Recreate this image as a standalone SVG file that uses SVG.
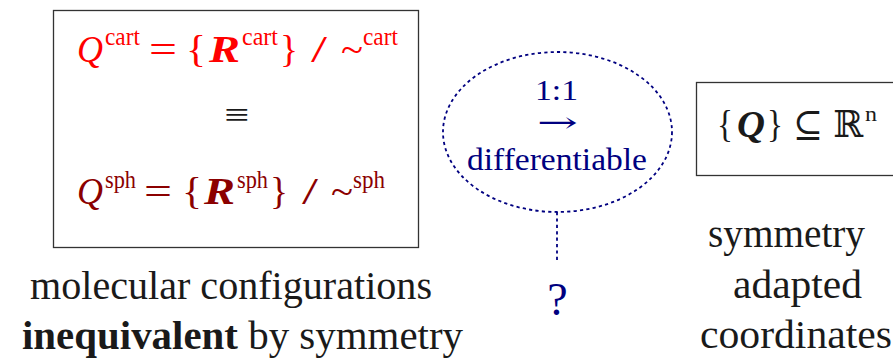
<svg xmlns="http://www.w3.org/2000/svg" width="893" height="358" viewBox="0 0 893 358">
<style>
.r{fill:#ff0000}
.d{fill:#8b0000}
.n{fill:#000080}
.k{fill:#1a1a1a}
.m{font-size:37px}
.s{font-size:25px}
.i{font-style:italic}
.b{font-weight:bold;font-style:italic}
.box{fill:#fff;stroke:#333;stroke-width:1.3}
.dot{fill:none;stroke:#000080;stroke-width:1.8;stroke-dasharray:3.2 3.2}
.lab{font-size:40px;fill:#1a1a1a}
</style>
<rect width="893" height="358" fill="#fff"/>
<g font-family="Liberation Serif">
<g id="config-box">
<rect class="box" x="53.5" y="10.5" width="365" height="237"/>
<g class="r">
<text class="m i" x="77" y="62" textLength="26" lengthAdjust="spacingAndGlyphs">Q</text>
<text class="s" x="105" y="45" textLength="35" lengthAdjust="spacingAndGlyphs">cart</text>
<text class="m" x="149" y="62" textLength="28" lengthAdjust="spacingAndGlyphs">=</text>
<text class="m" x="186" y="62" textLength="20" lengthAdjust="spacingAndGlyphs">{</text>
<text class="m b" x="209" y="62" textLength="31" lengthAdjust="spacingAndGlyphs">R</text>
<text class="s" x="242" y="45" textLength="36" lengthAdjust="spacingAndGlyphs">cart</text>
<text class="m" x="280" y="62" textLength="18" lengthAdjust="spacingAndGlyphs">}</text>
<text class="m" x="311" y="62" textLength="16" lengthAdjust="spacingAndGlyphs">/</text>
<text class="m" x="341" y="62" textLength="22" lengthAdjust="spacingAndGlyphs">~</text>
<text class="s" x="363" y="45" textLength="35" lengthAdjust="spacingAndGlyphs">cart</text>
</g>
<text class="k" x="224" y="126" font-size="34" textLength="25" lengthAdjust="spacingAndGlyphs">≡</text>
<g class="d">
<text class="m i" x="77" y="204" textLength="26" lengthAdjust="spacingAndGlyphs">Q</text>
<text class="s" x="105" y="188" textLength="31" lengthAdjust="spacingAndGlyphs">sph</text>
<text class="m" x="144" y="204" textLength="28" lengthAdjust="spacingAndGlyphs">=</text>
<text class="m" x="182" y="204" textLength="20" lengthAdjust="spacingAndGlyphs">{</text>
<text class="m b" x="204" y="204" textLength="31" lengthAdjust="spacingAndGlyphs">R</text>
<text class="s" x="237" y="188" textLength="31" lengthAdjust="spacingAndGlyphs">sph</text>
<text class="m" x="270" y="204" textLength="18" lengthAdjust="spacingAndGlyphs">}</text>
<text class="m" x="302" y="204" textLength="16" lengthAdjust="spacingAndGlyphs">/</text>
<text class="m" x="331" y="204" textLength="22" lengthAdjust="spacingAndGlyphs">~</text>
<text class="s" x="353" y="188" textLength="32" lengthAdjust="spacingAndGlyphs">sph</text>
</g>
</g>
<g id="config-label">
<text class="lab" x="30" y="299" textLength="402" lengthAdjust="spacingAndGlyphs">molecular configurations</text>
<text class="lab" x="22" y="349" textLength="441" lengthAdjust="spacingAndGlyphs"><tspan font-weight="bold">inequivalent</tspan> by symmetry</text>
</g>
<g id="map-ellipse">
<ellipse class="dot" cx="557.5" cy="132" rx="114.5" ry="80"/>
<text class="n" x="535" y="100" font-size="30" textLength="43" lengthAdjust="spacingAndGlyphs">1:1</text>
<text class="n" x="537" y="132" font-size="28" textLength="41" lengthAdjust="spacingAndGlyphs" font-family="DejaVu Serif">→</text>
<text class="n" x="467" y="170" font-size="32" textLength="180" lengthAdjust="spacingAndGlyphs">differentiable</text>
</g>
<g id="connectors">
<line class="dot" x1="557" y1="212" x2="557" y2="262"/>
</g>
<g id="question">
<text class="n" x="557.5" y="315" font-size="46" text-anchor="middle">?</text>
</g>
<g id="coord-box">
<rect class="box" x="696.5" y="82.5" width="200" height="93"/>
<text class="m k" x="717" y="137" textLength="16" lengthAdjust="spacingAndGlyphs">{</text>
<text class="m k b" x="737" y="137" textLength="28" lengthAdjust="spacingAndGlyphs">Q</text>
<text class="m k" x="767" y="137" textLength="16" lengthAdjust="spacingAndGlyphs">}</text>
<text class="m k" x="793" y="137" textLength="30" lengthAdjust="spacingAndGlyphs" font-family="DejaVu Serif">⊆</text>
<text class="m k" x="833" y="137" textLength="30" lengthAdjust="spacingAndGlyphs" font-family="DejaVu Serif">ℝ</text>
<text class="k" x="865" y="121" font-size="22" textLength="12" lengthAdjust="spacingAndGlyphs">n</text>
</g>
<g id="coord-label">
<text class="lab" x="708" y="247" textLength="157" lengthAdjust="spacingAndGlyphs">symmetry</text>
<text class="lab" x="733" y="298" textLength="129" lengthAdjust="spacingAndGlyphs">adapted</text>
<text class="lab" x="700" y="348" textLength="192" lengthAdjust="spacingAndGlyphs">coordinates</text>
</g>
</g>
</svg>
